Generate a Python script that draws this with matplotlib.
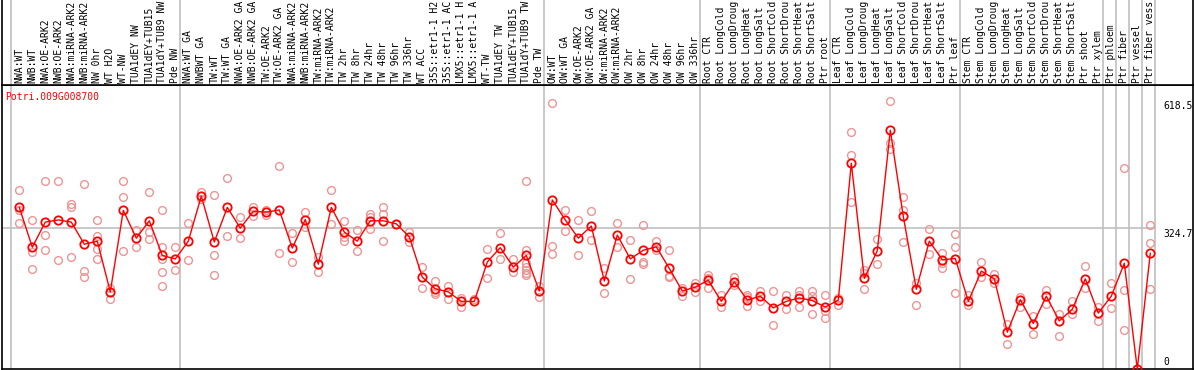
import numpy as np
import matplotlib
matplotlib.use("Agg")
import matplotlib.pyplot as plt

# sample names (the original cuts them at 14 characters)
labels = ["NWA:WT", "NWB:WT", "NWA:OE-ARK2", "NWB:OE-ARK2", "NWA:miRNA-ARK2", "NWB:miRNA-ARK2",
          "NW 0hr", "WT H2O", "WT-NW", "TUA1dEY NW", "TUA1dEY+TUB15", "TUA1dY+TUB9 NW", "Pde NW",
          "NWA:WT GA", "NWBWT GA", "TW:WT", "TW:WT GA", "NWA:OE-ARK2 GA", "NWB:OE-ARK2 GA",
          "TW:OE-ARK2", "TW:OE-ARK2 GA", "NWA:miRNA-ARK2 GA", "NWB:miRNA-ARK2 GA", "TW:miRNA-ARK2",
          "TW:miRNA-ARK2 GA", "TW 2hr", "TW 8hr", "TW 24hr", "TW 48hr", "TW 96hr", "TW 336hr",
          "WT ACC", "35S::etr1-1 H2O", "35S::etr1-1 ACC", "LMX5::etr1-1 H2O", "LMX5::etr1-1 ACC",
          "WT-TW", "TUA1dEY TW", "TUA1dEY+TUB15", "TUA1dY+TUB9 TW", "Pde TW",
          "OW:WT", "OW:WT GA", "OW:OE-ARK2", "OW:OE-ARK2 GA", "OW:miRNA-ARK2", "OW:miRNA-ARK2 GA",
          "OW 2hr", "OW 8hr", "OW 24hr", "OW 48hr", "OW 96hr", "OW 336hr",
          "Root CTR", "Root LongCold", "Root LongDrought", "Root LongHeat", "Root LongSalt",
          "Root ShortCold", "Root ShortDrought", "Root ShortHeat", "Root ShortSalt", "Ptr root",
          "Leaf CTR", "Leaf LongCold", "Leaf LongDrought", "Leaf LongHeat", "Leaf LongSalt",
          "Leaf ShortCold", "Leaf ShortDrought", "Leaf ShortHeat", "Leaf ShortSalt", "Ptr leaf",
          "Stem CTR", "Stem LongCold", "Stem LongDrought", "Stem LongHeat", "Stem LongSalt",
          "Stem ShortCold", "Stem ShortDrought", "Stem ShortHeat", "Stem ShortSalt", "Ptr shoot",
          "Ptr xylem", "Ptr phloem", "Ptr fiber", "Ptr vessel", "Ptr fiber vessel"]

# mean expression per sample
means = [373, 281, 339, 344, 339, 288, 295, 178, 366, 302, 342, 262, 254,
         295, 399, 293, 373, 325, 364, 362, 367, 279, 345, 242, 373, 316, 295,
         342, 342, 335, 305, 212, 185, 178, 156, 156, 247, 280, 235, 262, 180,
         390, 344, 302, 330, 203, 309, 254, 274, 282, 232, 180, 189,
         205, 156, 201, 159, 168, 141, 156, 164, 158, 143, 159,
         475, 209, 273, 551, 352, 184, 295, 252, 255, 156,
         226, 208, 85, 160, 105, 168, 111, 138, 208, 129, 168, 244, 0, 267]

# individual replicates per sample
reps = [[412, 366, 337], [344, 269, 231], [435, 309, 275], [433, 251], [381, 375, 258],
        [427, 226, 213], [344, 308, 276, 255], [186, 162], [433, 396, 272], [321, 281],
        [408, 317, 299], [368, 282, 255, 225, 192], [281, 228],
        [337, 251], [409, 392], [402, 262, 216], [441, 308], [351, 302], [375, 353],
        [368, 355], [469, 267], [313, 246], [362, 328], [259, 225], [412, 334],
        [341, 305, 296], [321, 272], [357, 351, 322], [374, 357, 295], [335],
        [317, 292], [235, 188], [202, 178, 173], [192, 161], [165, 143], [162],
        [278, 210], [314, 254], [254, 225], [433, 275, 244, 236, 228, 221, 217], [191, 166],
        [614, 284, 265], [366, 318], [344, 262], [364, 297], [232, 175], [336, 281],
        [298, 207], [332, 248, 243], [296, 274], [274, 215, 212], [188, 168], [198, 178],
        [217, 211, 188], [171, 144], [213, 194], [171, 166, 145], [181, 158], [180, 101],
        [170, 139], [180, 171, 144], [179, 168, 126], [170, 135, 118], [165, 148],
        [546, 493, 385], [228, 221, 184], [299, 242], [618.5, 521, 508], [396, 366, 293],
        [198, 148], [322, 265], [267, 245, 234], [311, 281, 175], [171, 148],
        [246, 213], [219, 198], [105, 57], [166, 142], [122, 80], [183, 151], [128, 76],
        [156, 127], [237, 188], [142, 110], [198, 140], [463, 182, 89], [], [332, 290, 184]]

gene = "Potri.009G008700"
ticks = [618.5, 324.7, 0]
group_starts = [0, 13, 41, 53, 63, 73, 84, 85, 86, 87, 88]

font = "DejaVu Sans Mono"
fs = 7.0
red = "#ff0000"
pink = "#ef9494"
grey = "#c0c0c0"

W, H = 1194, 370
fig = plt.figure(figsize=(W / 100, H / 100), dpi=100)

# pixel layout
x_left, x_right = 1.5, 1193
y_split, y_bottom = 85, 369
x0_px, step = 19.3, 13.0
xl = ((x_left - x0_px) / step, (x_right - x0_px) / step)

ax = fig.add_axes([x_left / W, (H - y_bottom) / H, (x_right - x_left) / W, (y_bottom - y_split) / H])
top = fig.add_axes([x_left / W, (H - y_split) / H, (x_right - x_left) / W, y_split / H + 0.01])

n = len(means)
idx = np.arange(n)
ymax = (y_bottom - y_split) * 324.7 / (y_bottom - 228.3)

ax.set_xlim(*xl)
ax.set_ylim(0, ymax)
top.set_xlim(*xl)
top.set_ylim(0, 1)

for a in (ax, top):
    a.set_xticks([])
    a.set_yticks([])
    for s in a.spines.values():
        s.set_color("black")
        s.set_linewidth(1.2)
    for g in group_starts:
        a.axvline(g - 0.65, color=grey, lw=1.2, zorder=0)
top.spines["top"].set_visible(False)

ax.hlines(324.7, xl[0], group_starts[-1] - 0.65, color=grey, lw=1.2, zorder=0)

# replicates
rx = [i for i, r in enumerate(reps) for _ in r]
ry = [v for r in reps for v in r]
ax.plot(rx, ry, "o", ls="none", mfc="none", mec=pink, ms=5.6, mew=1.0, zorder=2, clip_on=False)

# means
ax.plot(idx, means, "-o", color=red, lw=1.0, mfc="none", mec=red, ms=6.0, mew=1.3, zorder=3, clip_on=False)

ax.text(3.5 / (x_right - x_left), 0.958, gene, transform=ax.transAxes, color=red,
        family=font, fontsize=fs, ha="left", va="center")

for t in ticks:
    va = "bottom" if t == 0 else "top"
    ax.text(87.98, t + (4 if t == 0 else -1), f"{t:g}", family=font, fontsize=fs,
            ha="left", va=va, clip_on=False)

for i, lab in enumerate(labels):
    top.text(i, 0.02, lab[:14], rotation=90, family=font, fontsize=fs, ha="center", va="bottom")

fig.savefig("out.png", dpi=100)
